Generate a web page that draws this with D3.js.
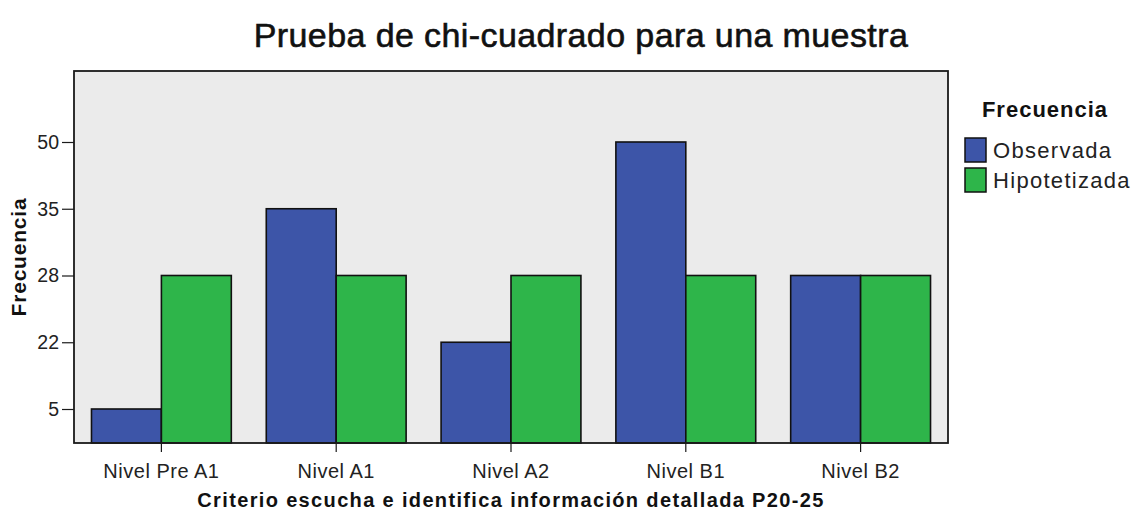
<!DOCTYPE html>
<html>
<head>
<meta charset="utf-8">
<script src="https://cdn.jsdelivr.net/npm/d3@7/dist/d3.min.js"></script>
<style>
  html, body { margin: 0; padding: 0; background: #ffffff; }
  svg { display: block; font-family: "Liberation Sans", Arial, sans-serif; }
</style>
</head>
<body>
<svg id="chart" width="1131" height="513"></svg>
<script>
// ---- data ----
const categories = ["Nivel Pre A1", "Nivel A1", "Nivel A2", "Nivel B1", "Nivel B2"];
const seriesNames = ["Observada", "Hipotetizada"];
const observada = [5, 35, 22, 50, 28];
const hipotetizada = [28, 28, 28, 28, 28];
const yTickValues = [5, 22, 28, 35, 50];
const titleText = "Prueba de chi-cuadrado para una muestra";
const xTitle = "Criterio escucha e identifica información detallada P20-25";
const yTitle = "Frecuencia";
const legendTitle = "Frecuencia";

// ---- layout ----
const W = 1131, H = 513;
const plot = { left: 74, right: 948, top: 71, bottom: 443 };
const colors = { Observada: "#3d55a8", Hipotetizada: "#2eb54a" };

const svg = d3.select("#chart");

// plot background
svg.append("rect")
  .attr("x", plot.left).attr("y", plot.top)
  .attr("width", plot.right - plot.left).attr("height", plot.bottom - plot.top)
  .attr("fill", "#ebebeb");

// x scales
const x0 = d3.scaleBand().domain(categories)
  .range([plot.left, plot.right]).paddingInner(0.2).paddingOuter(0.1);
const x1 = d3.scaleBand().domain(seriesNames).range([0, x0.bandwidth()]);

// y scale: SPSS shows only the observed/expected values, evenly spaced
const step = 66.75;
const yBase = plot.bottom - 34;
const y = d3.scaleLinear()
  .domain(yTickValues)
  .range(yTickValues.map((d, i) => yBase - i * step));

const rows = categories.map((c, i) => ({ cat: c, Observada: observada[i], Hipotetizada: hipotetizada[i] }));

const g = svg.append("g");
g.selectAll("g.grp").data(rows).join("g")
  .attr("class", "grp")
  .attr("transform", d => `translate(${x0(d.cat)},0)`)
  .selectAll("rect").data(d => seriesNames.map(s => ({ s, v: d[s] }))).join("rect")
  .attr("x", d => x1(d.s))
  .attr("y", d => y(d.v))
  .attr("width", x1.bandwidth())
  .attr("height", d => plot.bottom - y(d.v))
  .attr("fill", d => colors[d.s])
  .attr("stroke", "#111")
  .attr("stroke-width", 1.6);

// frame
svg.append("rect")
  .attr("x", plot.left).attr("y", plot.top)
  .attr("width", plot.right - plot.left).attr("height", plot.bottom - plot.top)
  .attr("fill", "none").attr("stroke", "#1a1a1a").attr("stroke-width", 1.8);

// y axis
const yAxis = svg.append("g")
  .attr("transform", `translate(${plot.left},0)`)
  .call(d3.axisLeft(y).tickValues(yTickValues).tickSize(12).tickPadding(3).tickFormat(d3.format("d")));
yAxis.select(".domain").remove();
yAxis.selectAll("line").attr("stroke", "#1a1a1a").attr("stroke-width", 1.2);
yAxis.selectAll("text").attr("font-size", 19.5).attr("fill", "#222")
  .attr("font-family", "Liberation Sans, Arial, sans-serif");

// x axis
const xAxis = svg.append("g")
  .attr("transform", `translate(0,${plot.bottom})`)
  .call(d3.axisBottom(x0).tickSize(9).tickPadding(12));
xAxis.select(".domain").remove();
xAxis.selectAll("line").attr("stroke", "#1a1a1a").attr("stroke-width", 1.2);
xAxis.selectAll("text").attr("font-size", 20).attr("fill", "#222")
  .attr("letter-spacing", 0.5)
  .attr("font-family", "Liberation Sans, Arial, sans-serif");

// title
svg.append("text")
  .attr("x", 581).attr("y", 47)
  .attr("text-anchor", "middle")
  .attr("font-size", 34)
  .attr("letter-spacing", 0.4)
  .attr("fill", "#111")
  .attr("stroke", "#111").attr("stroke-width", 0.6)
  .text(titleText);

// x axis title
svg.append("text")
  .attr("x", 511).attr("y", 507)
  .attr("text-anchor", "middle")
  .attr("font-size", 20).attr("font-weight", "bold")
  .attr("letter-spacing", 1.35)
  .attr("fill", "#111")
  .text(xTitle);

// y axis title
svg.append("text")
  .attr("transform", `translate(26,257) rotate(-90)`)
  .attr("text-anchor", "middle")
  .attr("font-size", 21).attr("font-weight", "bold")
  .attr("letter-spacing", 0.8)
  .attr("fill", "#111")
  .text(yTitle);

// legend
const lg = svg.append("g");
lg.append("text")
  .attr("x", 1045).attr("y", 117)
  .attr("text-anchor", "middle")
  .attr("font-size", 22).attr("font-weight", "bold")
  .attr("letter-spacing", 1)
  .attr("fill", "#111")
  .text(legendTitle);
const items = lg.selectAll("g.item").data(seriesNames).join("g")
  .attr("class", "item")
  .attr("transform", (d, i) => `translate(965,${138 + i * 30})`);
items.append("rect")
  .attr("width", 21).attr("height", 24)
  .attr("fill", d => colors[d])
  .attr("stroke", "#111").attr("stroke-width", 1.5);
items.append("text")
  .attr("x", 28).attr("y", 12).attr("dy", "0.36em")
  .attr("font-size", 22).attr("fill", "#222")
  .attr("letter-spacing", 1.3)
  .text(d => d);
</script>
</body>
</html>
